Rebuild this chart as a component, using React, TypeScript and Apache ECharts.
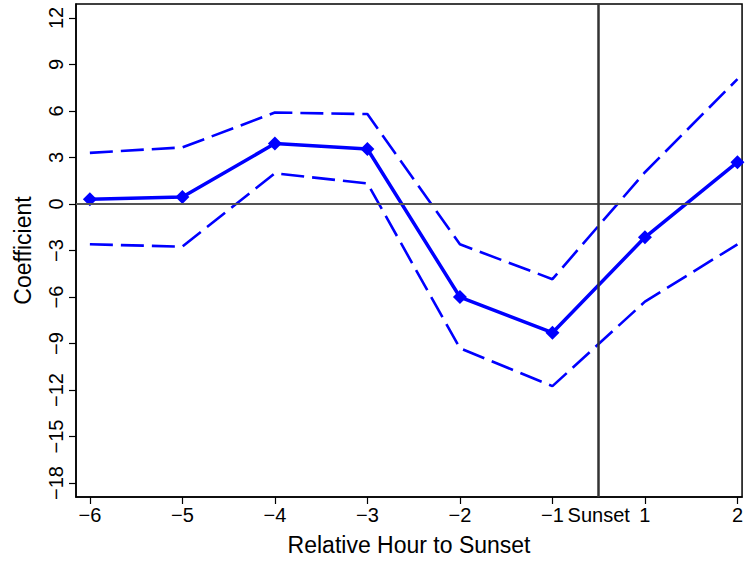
import React, { useEffect, useRef } from "react";
import * as echarts from "echarts";

const xPositions = [0, 1, 2, 3, 4, 5, 6, 7];
const xLabels = ["−6", "−5", "−4", "−3", "−2", "−1", "1", "2"];
const coef = [0.3, 0.45, 3.9, 3.55, -6.0, -8.3, -2.15, 2.7];
const upper = [3.3, 3.65, 5.9, 5.8, -2.6, -4.85, 2.05, 8.05];
const lower = [-2.6, -2.75, 1.98, 1.33, -9.3, -11.75, -6.3, -2.6];
const yTicks = [-18, -15, -12, -9, -6, -3, 0, 3, 6, 9, 12];
const sunsetPos = 5.5;
const sunsetLabel = "Sunset";

const FONT = "Liberation Sans, Arial, Helvetica, sans-serif";

export default function App() {
  const ref = useRef<HTMLDivElement>(null);
  useEffect(() => {
    if (!ref.current) return;
    const chart = echarts.init(ref.current, null, { renderer: "svg" });
    const pts = (arr: number[]) => xPositions.map((x, i) => [x, arr[i]]);
    chart.setOption({
      animation: false,
      backgroundColor: "#fff",
      grid: {
        left: 76,
        right: 0,
        top: 4,
        bottom: 67,
        show: true,
        borderColor: "#000",
        borderWidth: 1.5,
        backgroundColor: "transparent",
      },
      xAxis: {
        type: "value",
        min: -0.15,
        max: 7.05,
        name: "Relative Hour to Sunset",
        nameLocation: "middle",
        nameGap: 36,
        nameTextStyle: { fontSize: 23, color: "#000", fontFamily: FONT },
        axisLine: { show: true, onZero: false, lineStyle: { color: "#000", width: 1.5 } },
        axisTick: {
          show: true,
          length: 7,
          customValues: xPositions,
          lineStyle: { color: "#000", width: 1.2 },
        },
        axisLabel: {
          customValues: [...xPositions, sunsetPos],
          margin: 8,
          fontSize: 20,
          color: "#000",
          fontFamily: FONT,
          formatter: (v: number) =>
            Math.abs(v - sunsetPos) < 1e-6 ? sunsetLabel : xLabels[Math.round(v)],
        },
        splitLine: { show: false },
      },
      yAxis: {
        type: "value",
        min: -18.9,
        max: 12.9,
        name: "Coefficient",
        nameLocation: "middle",
        nameGap: 42,
        nameTextStyle: { fontSize: 23, color: "#000", fontFamily: FONT },
        axisLine: { show: true, onZero: false, lineStyle: { color: "#000", width: 1.5 } },
        axisTick: {
          show: true,
          length: 7,
          customValues: yTicks,
          lineStyle: { color: "#000", width: 1.2 },
        },
        axisLabel: {
          customValues: yTicks,
          rotate: 90,
          margin: 10,
          fontSize: 20,
          color: "#000",
          fontFamily: FONT,
          formatter: (v: number) => (v < 0 ? "−" + Math.abs(v) : String(v)),
        },
        splitLine: { show: false },
      },
      series: [
        {
          type: "line",
          data: [],
          silent: true,
          markLine: {
            symbol: "none",
            silent: true,
            label: { show: false },
            data: [
              { yAxis: 0, lineStyle: { color: "#555", width: 2, type: "solid" } },
              { xAxis: sunsetPos, lineStyle: { color: "#333", width: 2.5, type: "solid" } },
            ],
          },
        },
        {
          type: "line",
          data: pts(upper),
          symbol: "none",
          lineStyle: { color: "#0000ff", width: 2.6, type: [23, 8] },
        },
        {
          type: "line",
          data: pts(lower),
          symbol: "none",
          lineStyle: { color: "#0000ff", width: 2.6, type: [23, 8] },
        },
        {
          type: "line",
          data: pts(coef),
          symbol: "diamond",
          symbolSize: 14,
          itemStyle: { color: "#0000ff" },
          lineStyle: { color: "#0000ff", width: 3.5 },
        },
      ],
    });
    return () => chart.dispose();
  }, []);
  return (
    <div
      ref={ref}
      style={{ position: "fixed", left: 0, top: 0, width: 746, height: 564, background: "#fff" }}
    />
  );
}
